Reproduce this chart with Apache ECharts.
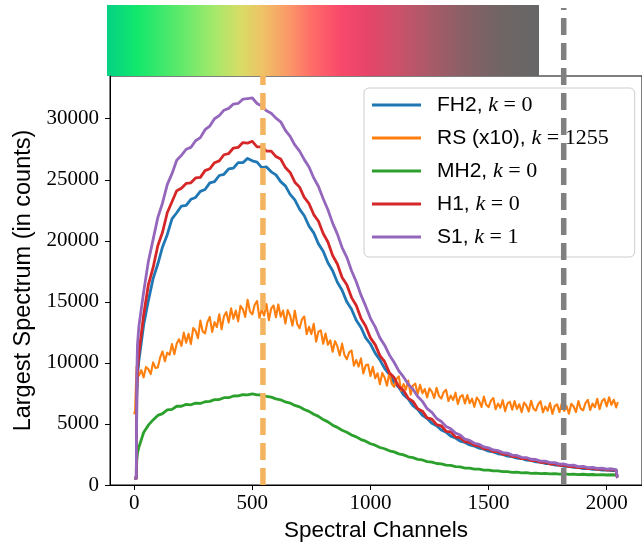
<!DOCTYPE html>
<html>
<head>
<meta charset="utf-8">
<style>
  html, body { margin: 0; padding: 0; background: #fff; }
  #chart { width: 642px; height: 547px; }
</style>
<script src="https://cdn.jsdelivr.net/npm/echarts@6/dist/echarts.min.js"></script>
</head>
<body>
<div id="chart"></div>
<script>
// Spectral channel positions shared by the four smooth spectra
const channels = [
  0, 5, 9, 11, 14,
  20, 40, 60, 80, 100, 120, 140, 160, 180, 200,
  220, 240, 260, 280, 300, 320, 340, 360, 380, 400,
  420, 440, 460, 480, 500, 520, 540, 560, 580, 600,
  620, 640, 660, 680, 700, 720, 740, 760, 780, 800,
  820, 840, 860, 880, 900, 920, 940, 960, 980, 1000,
  1020, 1040, 1060, 1080, 1100, 1120, 1140, 1160, 1180, 1200,
  1220, 1240, 1260, 1280, 1300, 1320, 1340, 1360, 1380, 1400,
  1420, 1440, 1460, 1480, 1500, 1520, 1540, 1560, 1580, 1600,
  1620, 1640, 1660, 1680, 1700, 1720, 1740, 1760, 1780, 1800,
  1820, 1840, 1860, 1880, 1900, 1920, 1940, 1960, 1980, 2000,
  2020, 2040, 2044, 2047
];

const fh2 = [
  560, 570, 560, 7000, 9000,
  10200, 13100, 15100, 16900, 18100, 19500, 20500, 21800, 22300, 22850,
  22900, 23400, 23550, 24050, 24200, 24750, 24850, 25350, 25450, 25900,
  25950, 26400, 26400, 26750, 26550, 26450, 26000, 26050, 25650, 25400,
  24850, 24500, 23800, 23350, 22600, 22050, 21200, 20650, 19750, 19150,
  18200, 17550, 16600, 15950, 15000, 14400, 13500, 12900, 12050, 11550,
  10800, 10250, 9550, 9050, 8400, 8000, 7400, 7050, 6500, 6200,
  5700, 5450, 5050, 4850, 4500, 4330, 4000, 3850, 3600, 3480,
  3280, 3190, 3010, 2930, 2770, 2710, 2560, 2510, 2370, 2330,
  2200, 2170, 2040, 2010, 1890, 1870, 1760, 1750, 1640, 1630,
  1530, 1530, 1440, 1440, 1350, 1360, 1280, 1300, 1220, 1240,
  1170, 1190, 680, 600
];

const mh2 = [
  560, 570, 560, 2000, 2600,
  3100, 4300, 4900, 5330, 5700, 5850, 6150, 6200, 6450, 6450,
  6600, 6570, 6700, 6680, 6820, 6850, 6990, 7000, 7150, 7150,
  7290, 7300, 7400, 7390, 7460, 7380, 7370, 7250, 7200, 7050,
  6980, 6800, 6710, 6520, 6400, 6180, 6030, 5790, 5620, 5360,
  5170, 4900, 4720, 4480, 4320, 4090, 3940, 3720, 3590, 3380,
  3260, 3070, 2970, 2800, 2710, 2550, 2470, 2310, 2240, 2100,
  2050, 1920, 1880, 1760, 1730, 1620, 1600, 1500, 1480, 1390,
  1380, 1300, 1300, 1220, 1220, 1150, 1160, 1090, 1100, 1040,
  1060, 1000, 1020, 960, 980, 930, 950, 910, 930, 890,
  910, 870, 890, 850, 880, 840, 860, 830, 850, 820,
  840, 820, 830, 815
];

const h1 = [
  560, 570, 560, 7500, 9500,
  10800, 13900, 16400, 17800, 19600, 20700, 22300, 23200, 24100, 24300,
  24700, 24750, 25150, 25200, 25750, 25900, 26400, 26550, 27050, 27150,
  27600, 27650, 28050, 28000, 28150, 27700, 27700, 27350, 27350, 26900,
  26700, 26000, 25600, 24800, 24400, 23550, 23050, 22150, 21600, 20600,
  19900, 18800, 18100, 17000, 16400, 15350, 14700, 13650, 13000, 12050,
  11500, 10600, 10100, 9200, 8800, 8050, 7750, 7100, 6850, 6250,
  6050, 5500, 5400, 4950, 4850, 4400, 4350, 3920, 3880, 3550,
  3500, 3240, 3210, 2970, 2960, 2730, 2740, 2520, 2530, 2330,
  2330, 2160, 2170, 2000, 2010, 1850, 1870, 1720, 1740, 1610,
  1630, 1510, 1530, 1420, 1450, 1340, 1380, 1280, 1320, 1230,
  1260, 1200, 680, 600
];

const s1 = [
  560, 570, 560, 9000, 11500,
  13000, 15800, 18300, 20100, 21900, 23100, 24600, 25500, 26600, 27000,
  27500, 27650, 28200, 28450, 29100, 29400, 30000, 30250, 30700, 30850,
  31200, 31250, 31600, 31650, 31700, 31250, 31050, 30650, 30450, 30050,
  29750, 29050, 28550, 27850, 27350, 26650, 26050, 25150, 24450, 23450,
  22550, 21450, 20550, 19450, 18650, 17550, 16650, 15550, 14650, 13650,
  12950, 12050, 11450, 10650, 10050, 9350, 8850, 8250, 7850, 7250,
  6850, 6250, 5950, 5450, 5200, 4800, 4600, 4250, 4100, 3750,
  3650, 3420, 3330, 3120, 3050, 2870, 2820, 2650, 2610, 2450,
  2420, 2270, 2250, 2110, 2090, 1960, 1950, 1830, 1830, 1710,
  1720, 1610, 1620, 1510, 1530, 1430, 1450, 1360, 1390, 1300,
  1330, 1260, 700, 620
];

// The RS spectrum is much noisier, so it is kept on a finer channel grid
const rsChannels = [
  0, 4, 8,
  10, 20, 30, 40, 50, 60, 70, 80, 90, 100,
  110, 120, 130, 140, 150, 160, 170, 180, 190, 200,
  210, 220, 230, 240, 250, 260, 270, 280, 290, 300,
  310, 320, 330, 340, 350, 360, 370, 380, 390, 400,
  410, 420, 430, 440, 450, 460, 470, 480, 490, 500,
  510, 520, 530, 540, 550, 560, 570, 580, 590, 600,
  610, 620, 630, 640, 650, 660, 670, 680, 690, 700,
  710, 720, 730, 740, 750, 760, 770, 780, 790, 800,
  810, 820, 830, 840, 850, 860, 870, 880, 890, 900,
  910, 920, 930, 940, 950, 960, 970, 980, 990, 1000,
  1010, 1020, 1030, 1040, 1050, 1060, 1070, 1080, 1090, 1100,
  1110, 1120, 1130, 1140, 1150, 1160, 1170, 1180, 1190, 1200,
  1210, 1220, 1230, 1240, 1250, 1260, 1270, 1280, 1290, 1300,
  1310, 1320, 1330, 1340, 1350, 1360, 1370, 1380, 1390, 1400,
  1410, 1420, 1430, 1440, 1450, 1460, 1470, 1480, 1490, 1500,
  1510, 1520, 1530, 1540, 1550, 1560, 1570, 1580, 1590, 1600,
  1610, 1620, 1630, 1640, 1650, 1660, 1670, 1680, 1690, 1700,
  1710, 1720, 1730, 1740, 1750, 1760, 1770, 1780, 1790, 1800,
  1810, 1820, 1830, 1840, 1850, 1860, 1870, 1880, 1890, 1900,
  1910, 1920, 1930, 1940, 1950, 1960, 1970, 1980, 1990, 2000,
  2010, 2020, 2030, 2040, 2047
];

const rsX10 = [
  5800, 6100, 5950,
  9700, 8960, 9410, 8820, 9670, 9480, 9080, 10040, 9590, 9630,
  10450, 10940, 10130, 10840, 10660, 11550, 10710, 11580, 11940, 11390,
  12480, 11660, 12380, 11540, 12860, 12620, 12020, 13470, 12580, 12420,
  13340, 13770, 12540, 13340, 12940, 13990, 12760, 13820, 14160, 13300,
  14470, 13610, 14290, 13400, 14680, 14400, 13770, 15170, 14210, 13970,
  14760, 15070, 13700, 14370, 13870, 14820, 13500, 14460, 14700, 13740,
  14790, 13790, 14290, 13230, 14330, 13870, 13050, 14270, 13190, 12840,
  13560, 13800, 12360, 12960, 12360, 13200, 11740, 12560, 12660, 11570,
  12410, 11480, 11850, 10920, 11780, 11350, 10610, 11580, 10640, 10300,
  10860, 11020, 9780, 10240, 9700, 10370, 9130, 9800, 9860, 8930,
  9690, 8750, 9150, 8250, 9180, 8800, 8140, 9180, 8310, 8040,
  8670, 8900, 7730, 8270, 7810, 8550, 7400, 8150, 8300, 7450,
  8200, 7510, 7860, 7170, 7920, 7640, 7120, 7960, 7280, 7080,
  7600, 7800, 6880, 7320, 6960, 7560, 6640, 7240, 7360, 6680,
  7370, 6700, 7070, 6400, 7170, 6900, 6390, 7240, 6570, 6380,
  6910, 7120, 6210, 6670, 6330, 6950, 6050, 6680, 6820, 6170,
  6870, 6220, 6610, 5960, 6750, 6510, 6020, 6900, 6250, 6090,
  6630, 6860, 5960, 6430, 6090, 6720, 5830, 6460, 6610, 5970,
  6690, 6060, 6470, 5840, 6650, 6430, 5970, 6870, 6250, 6110,
  6700, 6980, 6140, 6660, 6380, 7060, 6210, 6880, 7060, 6440,
  7180, 6560, 6980, 6350, 6800
];

const seriesNames = ['FH2', 'RS (x10)', 'MH2', 'H1', 'S1'];
const kValues = [0, 1255, 0, 0, 1];
const seriesX = [channels, rsChannels, channels, channels, channels];
const seriesValues = [fh2, rsX10, mh2, h1, s1];
const seriesColors = ['#1f77b4', '#ff7f0e', '#2ca02c', '#d62728', '#9467bd'];
const seriesWidths = [2.8, 2.1, 2.8, 2.8, 2.8];

// Channels marked by the vertical dashed lines
const markerChannels = [545, 1818];

const xTicks = [0, 500, 1000, 1500, 2000];
const yTicks = [0, 5000, 10000, 15000, 20000, 25000, 30000];

const chart = echarts.init(document.getElementById('chart'), null, { renderer: 'canvas' });

const tickFont = { fontFamily: 'Liberation Serif', fontSize: 21, color: '#000' };

const lineSeries = seriesNames.map((name, i) => ({
  type: 'line',
  name: name,
  data: seriesX[i].map((c, j) => [c, seriesValues[i][j]]),
  symbol: 'none',
  showSymbol: false,
  smooth: false,
  z: 2,
  lineStyle: { color: seriesColors[i], width: seriesWidths[i], join: 'round' },
  itemStyle: { color: seriesColors[i] },
  emphasis: { disabled: true },
  animation: false
}));

function vline(channel, color, extendAbove, z) {
  return {
    type: 'custom',
    name: 'vline' + channel,
    data: [[channel, 0]],
    z: z,
    silent: true,
    animation: false,
    renderItem: function (params, api) {
      const p = api.coord([api.value(0), 0]);
      const top = params.coordSys.y - extendAbove;
      return {
        type: 'line',
        shape: { x1: p[0], y1: p[1], x2: p[0], y2: top },
        style: { stroke: color, lineWidth: 5.5, lineDash: [17, 8] }
      };
    }
  };
}

const option = {
  animation: false,
  backgroundColor: '#fff',
  grid: {
    left: 110, right: -4, top: 76, bottom: 62,
    show: true, borderColor: '#000', borderWidth: 1, backgroundColor: 'transparent'
  },
  graphic: [{
    type: 'rect',
    left: 107, top: 5,
    z: 0,
    shape: { width: 432, height: 71 },
    style: {
      fill: new echarts.graphic.LinearGradient(0, 0, 1, 0, [
        { offset: 0.00, color: '#05d184' },
        { offset: 0.07, color: '#12e86c' },
        { offset: 0.17, color: '#5fe96b' },
        { offset: 0.25, color: '#a6e86a' },
        { offset: 0.31, color: '#d8dc66' },
        { offset: 0.36, color: '#efc265' },
        { offset: 0.42, color: '#fb9868' },
        { offset: 0.48, color: '#fe6868' },
        { offset: 0.54, color: '#f8496b' },
        { offset: 0.60, color: '#e8446a' },
        { offset: 0.67, color: '#cd516a' },
        { offset: 0.75, color: '#a85a68' },
        { offset: 0.83, color: '#886066' },
        { offset: 0.91, color: '#706565' },
        { offset: 1.00, color: '#666666' }
      ])
    }
  }],
  legend: {
    data: seriesNames,
    orient: 'vertical',
    left: 364, top: 88,
    padding: [6, 26, 9, 8],
    icon: 'rect',
    itemWidth: 49,
    itemHeight: 3,
    itemGap: 11,
    backgroundColor: 'rgba(255,255,255,0.8)',
    borderColor: '#cccccc',
    borderWidth: 1,
    borderRadius: 5,
    selectedMode: false,
    z: 4,
    textStyle: {
      color: '#000',
      lineHeight: 22,
      rich: {
        s: { fontFamily: 'Liberation Sans', fontSize: 21, color: '#000', padding: [0, 0, 0, 11] },
        i: { fontFamily: 'Liberation Serif', fontStyle: 'italic', fontSize: 22, color: '#000' },
        r: { fontFamily: 'Liberation Serif', fontSize: 22, color: '#000' }
      }
    },
    formatter: function (name) {
      const k = kValues[seriesNames.indexOf(name)];
      return '{s|' + name + ', }{i|k}{r| = ' + k + '}';
    }
  },
  xAxis: {
    type: 'value',
    min: -102.35, max: 2149.35,
    name: 'Spectral Channels',
    nameLocation: 'middle',
    nameGap: 34,
    nameTextStyle: { fontFamily: 'Liberation Sans', fontSize: 22.5, color: '#000' },
    axisLine: { show: true, onZero: false, lineStyle: { color: '#000', width: 1 } },
    axisTick: { show: true, length: 5, lineStyle: { color: '#000', width: 1 }, customValues: xTicks },
    axisLabel: Object.assign({ margin: 8, customValues: xTicks, formatter: v => String(v) }, tickFont),
    splitLine: { show: false }
  },
  yAxis: {
    type: 'value',
    min: 0, max: 33500,
    name: 'Largest Spectrum (in counts)',
    nameLocation: 'middle',
    nameGap: 71,
    nameTextStyle: { fontFamily: 'Liberation Sans', fontSize: 23.5, color: '#000' },
    axisLine: { show: true, onZero: false, lineStyle: { color: '#000', width: 1 } },
    axisTick: { show: true, length: 5, lineStyle: { color: '#000', width: 1 }, customValues: yTicks },
    axisLabel: Object.assign({ margin: 11, customValues: yTicks, formatter: v => String(v) }, tickFont),
    splitLine: { show: false }
  },
  series: lineSeries.concat([
    vline(markerChannels[0], '#f4b45f', 0, 3),
    vline(markerChannels[1], '#808080', 68, 10)
  ])
};

chart.setOption(option);
</script>
</body>
</html>
